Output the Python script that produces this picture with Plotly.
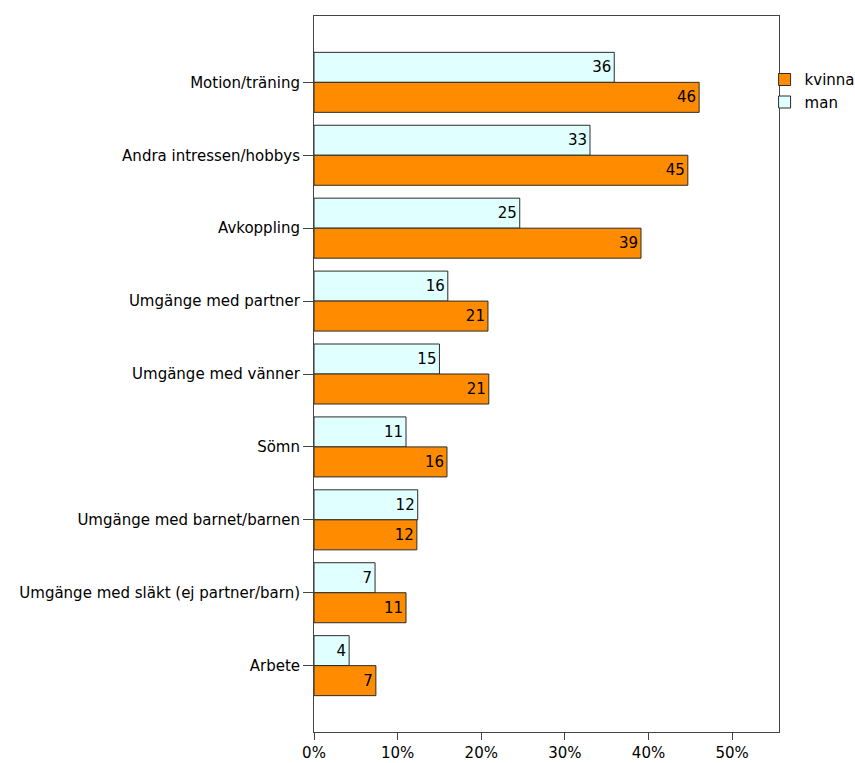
import plotly.graph_objects as go

categories = [
    "Motion/träning",
    "Andra intressen/hobbys",
    "Avkoppling",
    "Umgänge med partner",
    "Umgänge med vänner",
    "Sömn",
    "Umgänge med barnet/barnen",
    "Umgänge med släkt (ej partner/barn)",
    "Arbete",
]
man_values = [35.9, 33.0, 24.6, 16.0, 15.0, 11.0, 12.4, 7.3, 4.2]
kvinna_values = [46.05, 44.7, 39.1, 20.8, 20.9, 15.9, 12.3, 11.0, 7.4]
x_tick_values = [0, 10, 20, 30, 40, 50]
x_tick_labels = ["0%", "10%", "20%", "30%", "40%", "50%"]

FONT = "DejaVu Sans, Liberation Sans, Arial, sans-serif"
OUTLINE = dict(color="#2b2b2b", width=1)

fig = go.Figure()
fig.add_trace(go.Bar(
    name="man", y=categories, x=man_values, orientation="h",
    marker=dict(color="#E0FFFF", line=OUTLINE),
    text=[f"{round(v)}" for v in man_values],
    textposition="inside", insidetextanchor="end",
    textfont=dict(color="#000000", size=15, family=FONT),
    constraintext="none",
))
fig.add_trace(go.Bar(
    name="kvinna", y=categories, x=kvinna_values, orientation="h",
    marker=dict(color="#FF8C00", line=OUTLINE),
    text=[f"{round(v)}" for v in kvinna_values],
    textposition="inside", insidetextanchor="end",
    textfont=dict(color="#000000", size=15, family=FONT),
    constraintext="none",
))

fig.update_layout(
    width=855, height=763,
    margin=dict(l=314, r=76, t=16, b=31, autoexpand=False),
    paper_bgcolor="white", plot_bgcolor="white",
    barmode="group", bargap=0.177, bargroupgap=0,
    font=dict(family=FONT, size=15, color="#000000"),
    showlegend=True,
    legend=dict(
        x=0.969, xanchor="left", y=0.934, yanchor="top",
        traceorder="reversed", bgcolor="rgba(0,0,0,0)",
        font=dict(size=15, family=FONT, color="#000000"),
        itemwidth=30, tracegroupgap=0,
    ),
)
fig.update_xaxes(
    range=[0, 55.6], tickvals=x_tick_values, ticktext=x_tick_labels,
    showgrid=False, zeroline=False, automargin=False,
    showline=True, linecolor="#444444", linewidth=1, mirror=True,
    ticks="outside", ticklen=7, tickcolor="#444444",
    tickfont=dict(size=15, family=FONT, color="#000000"),
)
fig.update_yaxes(
    type="category", categoryorder="array", categoryarray=categories,
    range=[8.91, -0.91], automargin=False,
    showgrid=False, zeroline=False,
    showline=True, linecolor="#444444", linewidth=1, mirror=True,
    ticks="outside", ticklen=10, tickcolor="#444444",
    tickfont=dict(size=15, family=FONT, color="#000000"),
)

# remove the default page margin and scrollbars so the figure fills the window exactly
fig.write_html(
    "out.html",
    config={"displayModeBar": False},
    post_script="document.body.style.margin='0';"
                "document.documentElement.style.overflow='hidden';"
                "document.body.style.overflow='hidden';",
)
